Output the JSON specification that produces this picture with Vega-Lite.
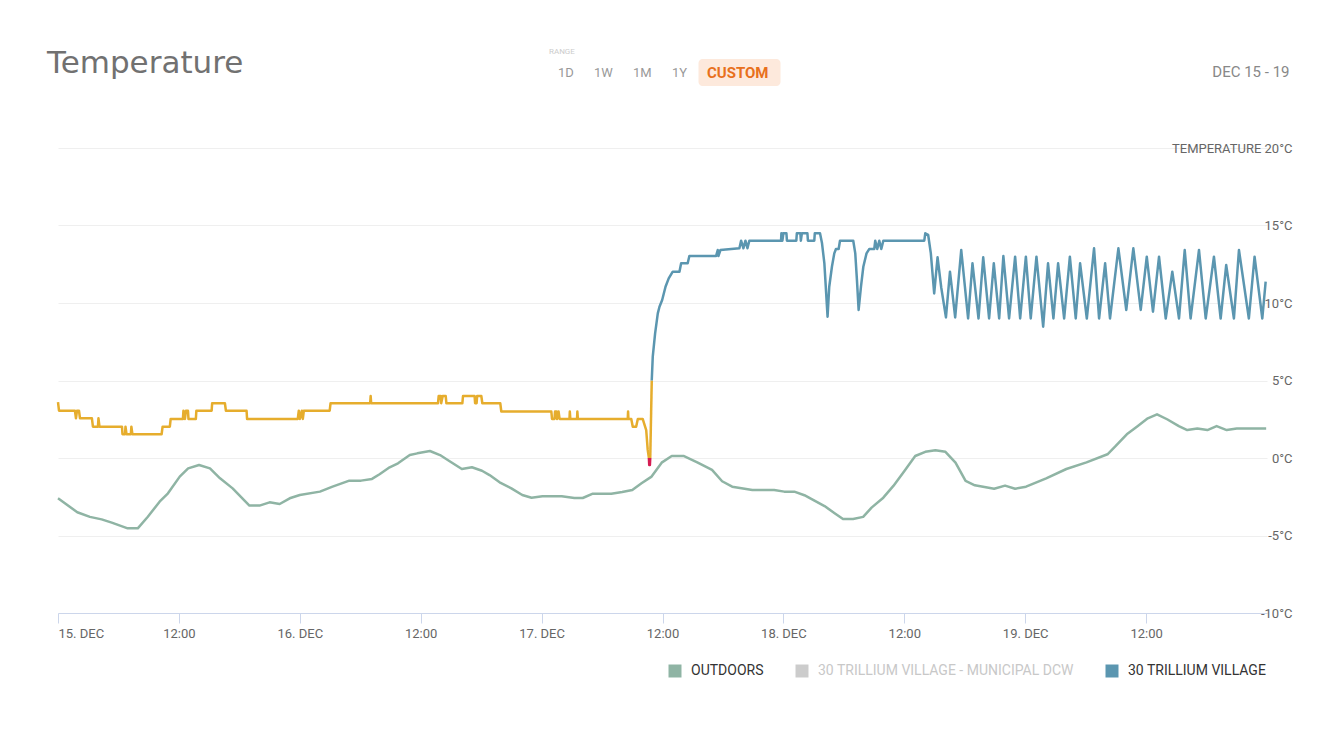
{
  "$schema": "https://vega.github.io/schema/vega-lite/v6.json",
  "width": 1209,
  "height": 465,
  "autosize": {"type": "none"},
  "padding": {"left": 58, "top": 148, "right": 50, "bottom": 139},
  "background": "#ffffff",
  "config": {"view": {"stroke": null}, "font": "Roboto"},
  "title": {"text": "Temperature", "anchor": "start", "frame": "group", "dx": -11, "offset": -56, "baseline": "alphabetic", "font": "DejaVu Sans", "fontSize": 31, "fontWeight": "normal", "color": "#717171"},
  "datasets": {
    "ranges": [{"range": "1D"}, {"range": "1W"}, {"range": "1M"}, {"range": "1Y"}],
    "selected": [{"selected": "CUSTOM"}],
    "temps": [
      {"time": "2017-12-15T00:00", "temp": -2.6, "series": "OUTDOORS", "part": "o"},
      {"time": "2017-12-15T01:55", "temp": -3.5, "series": "OUTDOORS", "part": "o"},
      {"time": "2017-12-15T03:10", "temp": -3.8, "series": "OUTDOORS", "part": "o"},
      {"time": "2017-12-15T04:20", "temp": -3.96, "series": "OUTDOORS", "part": "o"},
      {"time": "2017-12-15T05:20", "temp": -4.17, "series": "OUTDOORS", "part": "o"},
      {"time": "2017-12-15T06:55", "temp": -4.54, "series": "OUTDOORS", "part": "o"},
      {"time": "2017-12-15T07:55", "temp": -4.54, "series": "OUTDOORS", "part": "o"},
      {"time": "2017-12-15T08:55", "temp": -3.79, "series": "OUTDOORS", "part": "o"},
      {"time": "2017-12-15T10:05", "temp": -2.82, "series": "OUTDOORS", "part": "o"},
      {"time": "2017-12-15T10:55", "temp": -2.28, "series": "OUTDOORS", "part": "o"},
      {"time": "2017-12-15T12:05", "temp": -1.2, "series": "OUTDOORS", "part": "o"},
      {"time": "2017-12-15T12:55", "temp": -0.67, "series": "OUTDOORS", "part": "o"},
      {"time": "2017-12-15T14:00", "temp": -0.45, "series": "OUTDOORS", "part": "o"},
      {"time": "2017-12-15T15:05", "temp": -0.67, "series": "OUTDOORS", "part": "o"},
      {"time": "2017-12-15T16:05", "temp": -1.31, "series": "OUTDOORS", "part": "o"},
      {"time": "2017-12-15T17:20", "temp": -1.96, "series": "OUTDOORS", "part": "o"},
      {"time": "2017-12-15T19:00", "temp": -3.07, "series": "OUTDOORS", "part": "o"},
      {"time": "2017-12-15T20:00", "temp": -3.07, "series": "OUTDOORS", "part": "o"},
      {"time": "2017-12-15T21:00", "temp": -2.86, "series": "OUTDOORS", "part": "o"},
      {"time": "2017-12-15T22:00", "temp": -2.97, "series": "OUTDOORS", "part": "o"},
      {"time": "2017-12-15T23:00", "temp": -2.6, "series": "OUTDOORS", "part": "o"},
      {"time": "2017-12-16T00:00", "temp": -2.39, "series": "OUTDOORS", "part": "o"},
      {"time": "2017-12-16T02:00", "temp": -2.17, "series": "OUTDOORS", "part": "o"},
      {"time": "2017-12-16T03:15", "temp": -1.85, "series": "OUTDOORS", "part": "o"},
      {"time": "2017-12-16T04:55", "temp": -1.46, "series": "OUTDOORS", "part": "o"},
      {"time": "2017-12-16T06:05", "temp": -1.46, "series": "OUTDOORS", "part": "o"},
      {"time": "2017-12-16T07:10", "temp": -1.35, "series": "OUTDOORS", "part": "o"},
      {"time": "2017-12-16T07:55", "temp": -1.05, "series": "OUTDOORS", "part": "o"},
      {"time": "2017-12-16T08:55", "temp": -0.6, "series": "OUTDOORS", "part": "o"},
      {"time": "2017-12-16T09:45", "temp": -0.34, "series": "OUTDOORS", "part": "o"},
      {"time": "2017-12-16T10:55", "temp": 0.19, "series": "OUTDOORS", "part": "o"},
      {"time": "2017-12-16T11:40", "temp": 0.3, "series": "OUTDOORS", "part": "o"},
      {"time": "2017-12-16T12:55", "temp": 0.45, "series": "OUTDOORS", "part": "o"},
      {"time": "2017-12-16T13:55", "temp": 0.19, "series": "OUTDOORS", "part": "o"},
      {"time": "2017-12-16T14:50", "temp": -0.19, "series": "OUTDOORS", "part": "o"},
      {"time": "2017-12-16T16:05", "temp": -0.71, "series": "OUTDOORS", "part": "o"},
      {"time": "2017-12-16T17:05", "temp": -0.6, "series": "OUTDOORS", "part": "o"},
      {"time": "2017-12-16T18:05", "temp": -0.82, "series": "OUTDOORS", "part": "o"},
      {"time": "2017-12-16T18:50", "temp": -1.1, "series": "OUTDOORS", "part": "o"},
      {"time": "2017-12-16T19:50", "temp": -1.57, "series": "OUTDOORS", "part": "o"},
      {"time": "2017-12-16T21:00", "temp": -1.96, "series": "OUTDOORS", "part": "o"},
      {"time": "2017-12-16T22:05", "temp": -2.39, "series": "OUTDOORS", "part": "o"},
      {"time": "2017-12-16T23:00", "temp": -2.56, "series": "OUTDOORS", "part": "o"},
      {"time": "2017-12-17T00:05", "temp": -2.47, "series": "OUTDOORS", "part": "o"},
      {"time": "2017-12-17T02:00", "temp": -2.47, "series": "OUTDOORS", "part": "o"},
      {"time": "2017-12-17T03:15", "temp": -2.58, "series": "OUTDOORS", "part": "o"},
      {"time": "2017-12-17T04:05", "temp": -2.58, "series": "OUTDOORS", "part": "o"},
      {"time": "2017-12-17T05:05", "temp": -2.3, "series": "OUTDOORS", "part": "o"},
      {"time": "2017-12-17T06:55", "temp": -2.3, "series": "OUTDOORS", "part": "o"},
      {"time": "2017-12-17T08:00", "temp": -2.19, "series": "OUTDOORS", "part": "o"},
      {"time": "2017-12-17T09:00", "temp": -2.06, "series": "OUTDOORS", "part": "o"},
      {"time": "2017-12-17T09:55", "temp": -1.63, "series": "OUTDOORS", "part": "o"},
      {"time": "2017-12-17T10:55", "temp": -1.2, "series": "OUTDOORS", "part": "o"},
      {"time": "2017-12-17T11:55", "temp": -0.3, "series": "OUTDOORS", "part": "o"},
      {"time": "2017-12-17T12:55", "temp": 0.13, "series": "OUTDOORS", "part": "o"},
      {"time": "2017-12-17T14:05", "temp": 0.13, "series": "OUTDOORS", "part": "o"},
      {"time": "2017-12-17T15:30", "temp": -0.3, "series": "OUTDOORS", "part": "o"},
      {"time": "2017-12-17T16:55", "temp": -0.77, "series": "OUTDOORS", "part": "o"},
      {"time": "2017-12-17T17:55", "temp": -1.5, "series": "OUTDOORS", "part": "o"},
      {"time": "2017-12-17T18:55", "temp": -1.85, "series": "OUTDOORS", "part": "o"},
      {"time": "2017-12-17T20:55", "temp": -2.06, "series": "OUTDOORS", "part": "o"},
      {"time": "2017-12-17T23:05", "temp": -2.06, "series": "OUTDOORS", "part": "o"},
      {"time": "2017-12-18T00:05", "temp": -2.17, "series": "OUTDOORS", "part": "o"},
      {"time": "2017-12-18T01:05", "temp": -2.17, "series": "OUTDOORS", "part": "o"},
      {"time": "2017-12-18T02:05", "temp": -2.4, "series": "OUTDOORS", "part": "o"},
      {"time": "2017-12-18T03:05", "temp": -2.75, "series": "OUTDOORS", "part": "o"},
      {"time": "2017-12-18T04:05", "temp": -3.1, "series": "OUTDOORS", "part": "o"},
      {"time": "2017-12-18T05:05", "temp": -3.56, "series": "OUTDOORS", "part": "o"},
      {"time": "2017-12-18T05:55", "temp": -3.94, "series": "OUTDOORS", "part": "o"},
      {"time": "2017-12-18T06:55", "temp": -3.94, "series": "OUTDOORS", "part": "o"},
      {"time": "2017-12-18T07:55", "temp": -3.8, "series": "OUTDOORS", "part": "o"},
      {"time": "2017-12-18T08:45", "temp": -3.2, "series": "OUTDOORS", "part": "o"},
      {"time": "2017-12-18T09:55", "temp": -2.56, "series": "OUTDOORS", "part": "o"},
      {"time": "2017-12-18T10:55", "temp": -1.8, "series": "OUTDOORS", "part": "o"},
      {"time": "2017-12-18T12:05", "temp": -0.77, "series": "OUTDOORS", "part": "o"},
      {"time": "2017-12-18T13:05", "temp": 0.13, "series": "OUTDOORS", "part": "o"},
      {"time": "2017-12-18T14:05", "temp": 0.4, "series": "OUTDOORS", "part": "o"},
      {"time": "2017-12-18T15:05", "temp": 0.5, "series": "OUTDOORS", "part": "o"},
      {"time": "2017-12-18T16:05", "temp": 0.4, "series": "OUTDOORS", "part": "o"},
      {"time": "2017-12-18T17:05", "temp": -0.3, "series": "OUTDOORS", "part": "o"},
      {"time": "2017-12-18T18:05", "temp": -1.48, "series": "OUTDOORS", "part": "o"},
      {"time": "2017-12-18T19:00", "temp": -1.76, "series": "OUTDOORS", "part": "o"},
      {"time": "2017-12-18T20:55", "temp": -1.98, "series": "OUTDOORS", "part": "o"},
      {"time": "2017-12-18T22:00", "temp": -1.78, "series": "OUTDOORS", "part": "o"},
      {"time": "2017-12-18T23:00", "temp": -1.98, "series": "OUTDOORS", "part": "o"},
      {"time": "2017-12-19T00:05", "temp": -1.85, "series": "OUTDOORS", "part": "o"},
      {"time": "2017-12-19T02:05", "temp": -1.31, "series": "OUTDOORS", "part": "o"},
      {"time": "2017-12-19T04:05", "temp": -0.71, "series": "OUTDOORS", "part": "o"},
      {"time": "2017-12-19T06:05", "temp": -0.28, "series": "OUTDOORS", "part": "o"},
      {"time": "2017-12-19T08:10", "temp": 0.24, "series": "OUTDOORS", "part": "o"},
      {"time": "2017-12-19T08:55", "temp": 0.73, "series": "OUTDOORS", "part": "o"},
      {"time": "2017-12-19T10:05", "temp": 1.53, "series": "OUTDOORS", "part": "o"},
      {"time": "2017-12-19T11:05", "temp": 2.02, "series": "OUTDOORS", "part": "o"},
      {"time": "2017-12-19T12:10", "temp": 2.56, "series": "OUTDOORS", "part": "o"},
      {"time": "2017-12-19T13:05", "temp": 2.82, "series": "OUTDOORS", "part": "o"},
      {"time": "2017-12-19T14:05", "temp": 2.5, "series": "OUTDOORS", "part": "o"},
      {"time": "2017-12-19T15:15", "temp": 2.06, "series": "OUTDOORS", "part": "o"},
      {"time": "2017-12-19T16:05", "temp": 1.8, "series": "OUTDOORS", "part": "o"},
      {"time": "2017-12-19T17:05", "temp": 1.9, "series": "OUTDOORS", "part": "o"},
      {"time": "2017-12-19T18:05", "temp": 1.8, "series": "OUTDOORS", "part": "o"},
      {"time": "2017-12-19T19:00", "temp": 2.06, "series": "OUTDOORS", "part": "o"},
      {"time": "2017-12-19T20:00", "temp": 1.8, "series": "OUTDOORS", "part": "o"},
      {"time": "2017-12-19T21:00", "temp": 1.9, "series": "OUTDOORS", "part": "o"},
      {"time": "2017-12-19T23:55", "temp": 1.9, "series": "OUTDOORS", "part": "o"},

      {"time": "2017-12-15T00:00", "temp": 3.6, "series": "30 TRILLIUM VILLAGE <5°C", "part": "a"},
      {"time": "2017-12-15T00:06", "temp": 3.05, "series": "30 TRILLIUM VILLAGE <5°C", "part": "a"},
      {"time": "2017-12-15T01:41", "temp": 3.05, "series": "30 TRILLIUM VILLAGE <5°C", "part": "a"},
      {"time": "2017-12-15T01:47", "temp": 2.56, "series": "30 TRILLIUM VILLAGE <5°C", "part": "a"},
      {"time": "2017-12-15T01:53", "temp": 3.05, "series": "30 TRILLIUM VILLAGE <5°C", "part": "a"},
      {"time": "2017-12-15T02:05", "temp": 3.05, "series": "30 TRILLIUM VILLAGE <5°C", "part": "a"},
      {"time": "2017-12-15T02:11", "temp": 2.56, "series": "30 TRILLIUM VILLAGE <5°C", "part": "a"},
      {"time": "2017-12-15T03:22", "temp": 2.56, "series": "30 TRILLIUM VILLAGE <5°C", "part": "a"},
      {"time": "2017-12-15T03:28", "temp": 2.02, "series": "30 TRILLIUM VILLAGE <5°C", "part": "a"},
      {"time": "2017-12-15T03:58", "temp": 2.02, "series": "30 TRILLIUM VILLAGE <5°C", "part": "a"},
      {"time": "2017-12-15T04:01", "temp": 2.56, "series": "30 TRILLIUM VILLAGE <5°C", "part": "a"},
      {"time": "2017-12-15T04:07", "temp": 2.02, "series": "30 TRILLIUM VILLAGE <5°C", "part": "a"},
      {"time": "2017-12-15T06:21", "temp": 2.02, "series": "30 TRILLIUM VILLAGE <5°C", "part": "a"},
      {"time": "2017-12-15T06:24", "temp": 1.53, "series": "30 TRILLIUM VILLAGE <5°C", "part": "a"},
      {"time": "2017-12-15T06:39", "temp": 1.53, "series": "30 TRILLIUM VILLAGE <5°C", "part": "a"},
      {"time": "2017-12-15T06:42", "temp": 2.02, "series": "30 TRILLIUM VILLAGE <5°C", "part": "a"},
      {"time": "2017-12-15T06:48", "temp": 1.53, "series": "30 TRILLIUM VILLAGE <5°C", "part": "a"},
      {"time": "2017-12-15T07:14", "temp": 1.53, "series": "30 TRILLIUM VILLAGE <5°C", "part": "a"},
      {"time": "2017-12-15T07:17", "temp": 2.02, "series": "30 TRILLIUM VILLAGE <5°C", "part": "a"},
      {"time": "2017-12-15T07:23", "temp": 1.53, "series": "30 TRILLIUM VILLAGE <5°C", "part": "a"},
      {"time": "2017-12-15T10:17", "temp": 1.53, "series": "30 TRILLIUM VILLAGE <5°C", "part": "a"},
      {"time": "2017-12-15T10:23", "temp": 2.02, "series": "30 TRILLIUM VILLAGE <5°C", "part": "a"},
      {"time": "2017-12-15T11:06", "temp": 2.02, "series": "30 TRILLIUM VILLAGE <5°C", "part": "a"},
      {"time": "2017-12-15T11:11", "temp": 2.52, "series": "30 TRILLIUM VILLAGE <5°C", "part": "a"},
      {"time": "2017-12-15T12:24", "temp": 2.52, "series": "30 TRILLIUM VILLAGE <5°C", "part": "a"},
      {"time": "2017-12-15T12:27", "temp": 3.05, "series": "30 TRILLIUM VILLAGE <5°C", "part": "a"},
      {"time": "2017-12-15T12:36", "temp": 2.52, "series": "30 TRILLIUM VILLAGE <5°C", "part": "a"},
      {"time": "2017-12-15T12:42", "temp": 3.05, "series": "30 TRILLIUM VILLAGE <5°C", "part": "a"},
      {"time": "2017-12-15T12:54", "temp": 3.05, "series": "30 TRILLIUM VILLAGE <5°C", "part": "a"},
      {"time": "2017-12-15T12:57", "temp": 2.52, "series": "30 TRILLIUM VILLAGE <5°C", "part": "a"},
      {"time": "2017-12-15T13:41", "temp": 2.52, "series": "30 TRILLIUM VILLAGE <5°C", "part": "a"},
      {"time": "2017-12-15T13:44", "temp": 3.05, "series": "30 TRILLIUM VILLAGE <5°C", "part": "a"},
      {"time": "2017-12-15T15:15", "temp": 3.05, "series": "30 TRILLIUM VILLAGE <5°C", "part": "a"},
      {"time": "2017-12-15T15:18", "temp": 3.53, "series": "30 TRILLIUM VILLAGE <5°C", "part": "a"},
      {"time": "2017-12-15T16:34", "temp": 3.53, "series": "30 TRILLIUM VILLAGE <5°C", "part": "a"},
      {"time": "2017-12-15T16:40", "temp": 3.05, "series": "30 TRILLIUM VILLAGE <5°C", "part": "a"},
      {"time": "2017-12-15T18:43", "temp": 3.05, "series": "30 TRILLIUM VILLAGE <5°C", "part": "a"},
      {"time": "2017-12-15T18:46", "temp": 2.52, "series": "30 TRILLIUM VILLAGE <5°C", "part": "a"},
      {"time": "2017-12-15T23:48", "temp": 2.52, "series": "30 TRILLIUM VILLAGE <5°C", "part": "a"},
      {"time": "2017-12-15T23:54", "temp": 3.05, "series": "30 TRILLIUM VILLAGE <5°C", "part": "a"},
      {"time": "2017-12-16T00:00", "temp": 2.52, "series": "30 TRILLIUM VILLAGE <5°C", "part": "a"},
      {"time": "2017-12-16T00:12", "temp": 3.05, "series": "30 TRILLIUM VILLAGE <5°C", "part": "a"},
      {"time": "2017-12-16T00:18", "temp": 2.52, "series": "30 TRILLIUM VILLAGE <5°C", "part": "a"},
      {"time": "2017-12-16T00:24", "temp": 3.05, "series": "30 TRILLIUM VILLAGE <5°C", "part": "a"},
      {"time": "2017-12-16T02:58", "temp": 3.05, "series": "30 TRILLIUM VILLAGE <5°C", "part": "a"},
      {"time": "2017-12-16T03:03", "temp": 3.53, "series": "30 TRILLIUM VILLAGE <5°C", "part": "a"},
      {"time": "2017-12-16T06:59", "temp": 3.53, "series": "30 TRILLIUM VILLAGE <5°C", "part": "a"},
      {"time": "2017-12-16T07:02", "temp": 4.0, "series": "30 TRILLIUM VILLAGE <5°C", "part": "a"},
      {"time": "2017-12-16T07:05", "temp": 3.53, "series": "30 TRILLIUM VILLAGE <5°C", "part": "a"},
      {"time": "2017-12-16T13:43", "temp": 3.53, "series": "30 TRILLIUM VILLAGE <5°C", "part": "a"},
      {"time": "2017-12-16T13:47", "temp": 4.0, "series": "30 TRILLIUM VILLAGE <5°C", "part": "a"},
      {"time": "2017-12-16T13:59", "temp": 4.0, "series": "30 TRILLIUM VILLAGE <5°C", "part": "a"},
      {"time": "2017-12-16T14:02", "temp": 3.53, "series": "30 TRILLIUM VILLAGE <5°C", "part": "a"},
      {"time": "2017-12-16T14:11", "temp": 4.0, "series": "30 TRILLIUM VILLAGE <5°C", "part": "a"},
      {"time": "2017-12-16T14:29", "temp": 4.0, "series": "30 TRILLIUM VILLAGE <5°C", "part": "a"},
      {"time": "2017-12-16T14:33", "temp": 3.53, "series": "30 TRILLIUM VILLAGE <5°C", "part": "a"},
      {"time": "2017-12-16T16:08", "temp": 3.53, "series": "30 TRILLIUM VILLAGE <5°C", "part": "a"},
      {"time": "2017-12-16T16:12", "temp": 4.0, "series": "30 TRILLIUM VILLAGE <5°C", "part": "a"},
      {"time": "2017-12-16T17:21", "temp": 4.0, "series": "30 TRILLIUM VILLAGE <5°C", "part": "a"},
      {"time": "2017-12-16T17:24", "temp": 3.53, "series": "30 TRILLIUM VILLAGE <5°C", "part": "a"},
      {"time": "2017-12-16T17:33", "temp": 3.53, "series": "30 TRILLIUM VILLAGE <5°C", "part": "a"},
      {"time": "2017-12-16T17:36", "temp": 4.0, "series": "30 TRILLIUM VILLAGE <5°C", "part": "a"},
      {"time": "2017-12-16T18:01", "temp": 4.0, "series": "30 TRILLIUM VILLAGE <5°C", "part": "a"},
      {"time": "2017-12-16T18:07", "temp": 3.53, "series": "30 TRILLIUM VILLAGE <5°C", "part": "a"},
      {"time": "2017-12-16T19:54", "temp": 3.53, "series": "30 TRILLIUM VILLAGE <5°C", "part": "a"},
      {"time": "2017-12-16T20:00", "temp": 3.0, "series": "30 TRILLIUM VILLAGE <5°C", "part": "a"},
      {"time": "2017-12-17T00:58", "temp": 3.0, "series": "30 TRILLIUM VILLAGE <5°C", "part": "a"},
      {"time": "2017-12-17T01:02", "temp": 2.52, "series": "30 TRILLIUM VILLAGE <5°C", "part": "a"},
      {"time": "2017-12-17T01:17", "temp": 2.52, "series": "30 TRILLIUM VILLAGE <5°C", "part": "a"},
      {"time": "2017-12-17T01:20", "temp": 3.0, "series": "30 TRILLIUM VILLAGE <5°C", "part": "a"},
      {"time": "2017-12-17T01:29", "temp": 3.0, "series": "30 TRILLIUM VILLAGE <5°C", "part": "a"},
      {"time": "2017-12-17T01:32", "temp": 2.52, "series": "30 TRILLIUM VILLAGE <5°C", "part": "a"},
      {"time": "2017-12-17T01:41", "temp": 3.0, "series": "30 TRILLIUM VILLAGE <5°C", "part": "a"},
      {"time": "2017-12-17T01:47", "temp": 2.52, "series": "30 TRILLIUM VILLAGE <5°C", "part": "a"},
      {"time": "2017-12-17T02:46", "temp": 2.52, "series": "30 TRILLIUM VILLAGE <5°C", "part": "a"},
      {"time": "2017-12-17T02:48", "temp": 3.0, "series": "30 TRILLIUM VILLAGE <5°C", "part": "a"},
      {"time": "2017-12-17T02:51", "temp": 2.52, "series": "30 TRILLIUM VILLAGE <5°C", "part": "a"},
      {"time": "2017-12-17T03:31", "temp": 2.52, "series": "30 TRILLIUM VILLAGE <5°C", "part": "a"},
      {"time": "2017-12-17T03:33", "temp": 3.0, "series": "30 TRILLIUM VILLAGE <5°C", "part": "a"},
      {"time": "2017-12-17T03:36", "temp": 2.52, "series": "30 TRILLIUM VILLAGE <5°C", "part": "a"},
      {"time": "2017-12-17T08:33", "temp": 2.52, "series": "30 TRILLIUM VILLAGE <5°C", "part": "a"},
      {"time": "2017-12-17T08:35", "temp": 3.0, "series": "30 TRILLIUM VILLAGE <5°C", "part": "a"},
      {"time": "2017-12-17T08:37", "temp": 2.52, "series": "30 TRILLIUM VILLAGE <5°C", "part": "a"},
      {"time": "2017-12-17T08:54", "temp": 2.52, "series": "30 TRILLIUM VILLAGE <5°C", "part": "a"},
      {"time": "2017-12-17T09:03", "temp": 2.02, "series": "30 TRILLIUM VILLAGE <5°C", "part": "a"},
      {"time": "2017-12-17T09:23", "temp": 2.02, "series": "30 TRILLIUM VILLAGE <5°C", "part": "a"},
      {"time": "2017-12-17T09:33", "temp": 2.52, "series": "30 TRILLIUM VILLAGE <5°C", "part": "a"},
      {"time": "2017-12-17T10:02", "temp": 2.52, "series": "30 TRILLIUM VILLAGE <5°C", "part": "a"},
      {"time": "2017-12-17T10:23", "temp": 1.8, "series": "30 TRILLIUM VILLAGE <5°C", "part": "a"},
      {"time": "2017-12-17T10:32", "temp": 0.52, "series": "30 TRILLIUM VILLAGE <5°C", "part": "a"},
      {"time": "2017-12-17T10:39", "temp": 0.0, "series": "30 TRILLIUM VILLAGE <5°C", "part": "a"},

      {"time": "2017-12-17T10:39", "temp": 0.0, "series": "30 TRILLIUM VILLAGE <0°C", "part": "b"},
      {"time": "2017-12-17T10:41", "temp": -0.45, "series": "30 TRILLIUM VILLAGE <0°C", "part": "b"},
      {"time": "2017-12-17T10:45", "temp": -0.45, "series": "30 TRILLIUM VILLAGE <0°C", "part": "b"},
      {"time": "2017-12-17T10:47", "temp": 0.0, "series": "30 TRILLIUM VILLAGE <0°C", "part": "b"},

      {"time": "2017-12-17T10:47", "temp": 0.0, "series": "30 TRILLIUM VILLAGE <5°C", "part": "c"},
      {"time": "2017-12-17T10:56", "temp": 5.0, "series": "30 TRILLIUM VILLAGE <5°C", "part": "c"},

      {"time": "2017-12-17T10:56", "temp": 5.0, "series": "30 TRILLIUM VILLAGE", "part": "d"},
      {"time": "2017-12-17T11:02", "temp": 6.54, "series": "30 TRILLIUM VILLAGE", "part": "d"},
      {"time": "2017-12-17T11:16", "temp": 8.04, "series": "30 TRILLIUM VILLAGE", "part": "d"},
      {"time": "2017-12-17T11:32", "temp": 9.33, "series": "30 TRILLIUM VILLAGE", "part": "d"},
      {"time": "2017-12-17T11:42", "temp": 9.76, "series": "30 TRILLIUM VILLAGE", "part": "d"},
      {"time": "2017-12-17T11:58", "temp": 10.19, "series": "30 TRILLIUM VILLAGE", "part": "d"},
      {"time": "2017-12-17T12:18", "temp": 11.05, "series": "30 TRILLIUM VILLAGE", "part": "d"},
      {"time": "2017-12-17T12:37", "temp": 11.59, "series": "30 TRILLIUM VILLAGE", "part": "d"},
      {"time": "2017-12-17T13:01", "temp": 12.02, "series": "30 TRILLIUM VILLAGE", "part": "d"},
      {"time": "2017-12-17T13:41", "temp": 12.02, "series": "30 TRILLIUM VILLAGE", "part": "d"},
      {"time": "2017-12-17T13:51", "temp": 12.56, "series": "30 TRILLIUM VILLAGE", "part": "d"},
      {"time": "2017-12-17T14:30", "temp": 12.56, "series": "30 TRILLIUM VILLAGE", "part": "d"},
      {"time": "2017-12-17T14:40", "temp": 13.03, "series": "30 TRILLIUM VILLAGE", "part": "d"},
      {"time": "2017-12-17T17:19", "temp": 13.03, "series": "30 TRILLIUM VILLAGE", "part": "d"},
      {"time": "2017-12-17T17:29", "temp": 13.42, "series": "30 TRILLIUM VILLAGE", "part": "d"},
      {"time": "2017-12-17T17:33", "temp": 13.03, "series": "30 TRILLIUM VILLAGE", "part": "d"},
      {"time": "2017-12-17T17:45", "temp": 13.42, "series": "30 TRILLIUM VILLAGE", "part": "d"},
      {"time": "2017-12-17T19:38", "temp": 13.53, "series": "30 TRILLIUM VILLAGE", "part": "d"},
      {"time": "2017-12-17T19:48", "temp": 14.02, "series": "30 TRILLIUM VILLAGE", "part": "d"},
      {"time": "2017-12-17T20:02", "temp": 13.53, "series": "30 TRILLIUM VILLAGE", "part": "d"},
      {"time": "2017-12-17T20:14", "temp": 14.02, "series": "30 TRILLIUM VILLAGE", "part": "d"},
      {"time": "2017-12-17T20:26", "temp": 13.53, "series": "30 TRILLIUM VILLAGE", "part": "d"},
      {"time": "2017-12-17T20:37", "temp": 14.02, "series": "30 TRILLIUM VILLAGE", "part": "d"},
      {"time": "2017-12-17T23:46", "temp": 14.02, "series": "30 TRILLIUM VILLAGE", "part": "d"},
      {"time": "2017-12-17T23:48", "temp": 14.5, "series": "30 TRILLIUM VILLAGE", "part": "d"},
      {"time": "2017-12-17T23:54", "temp": 14.02, "series": "30 TRILLIUM VILLAGE", "part": "d"},
      {"time": "2017-12-18T00:00", "temp": 14.5, "series": "30 TRILLIUM VILLAGE", "part": "d"},
      {"time": "2017-12-18T00:18", "temp": 14.5, "series": "30 TRILLIUM VILLAGE", "part": "d"},
      {"time": "2017-12-18T00:21", "temp": 14.02, "series": "30 TRILLIUM VILLAGE", "part": "d"},
      {"time": "2017-12-18T01:17", "temp": 14.02, "series": "30 TRILLIUM VILLAGE", "part": "d"},
      {"time": "2017-12-18T01:20", "temp": 14.5, "series": "30 TRILLIUM VILLAGE", "part": "d"},
      {"time": "2017-12-18T01:41", "temp": 14.5, "series": "30 TRILLIUM VILLAGE", "part": "d"},
      {"time": "2017-12-18T01:44", "temp": 14.02, "series": "30 TRILLIUM VILLAGE", "part": "d"},
      {"time": "2017-12-18T01:50", "temp": 14.5, "series": "30 TRILLIUM VILLAGE", "part": "d"},
      {"time": "2017-12-18T02:23", "temp": 14.5, "series": "30 TRILLIUM VILLAGE", "part": "d"},
      {"time": "2017-12-18T02:26", "temp": 14.02, "series": "30 TRILLIUM VILLAGE", "part": "d"},
      {"time": "2017-12-18T03:04", "temp": 14.02, "series": "30 TRILLIUM VILLAGE", "part": "d"},
      {"time": "2017-12-18T03:07", "temp": 14.5, "series": "30 TRILLIUM VILLAGE", "part": "d"},
      {"time": "2017-12-18T03:38", "temp": 14.5, "series": "30 TRILLIUM VILLAGE", "part": "d"},
      {"time": "2017-12-18T03:50", "temp": 13.85, "series": "30 TRILLIUM VILLAGE", "part": "d"},
      {"time": "2017-12-18T04:04", "temp": 12.56, "series": "30 TRILLIUM VILLAGE", "part": "d"},
      {"time": "2017-12-18T04:23", "temp": 9.12, "series": "30 TRILLIUM VILLAGE", "part": "d"},
      {"time": "2017-12-18T04:33", "temp": 11.05, "series": "30 TRILLIUM VILLAGE", "part": "d"},
      {"time": "2017-12-18T04:49", "temp": 12.34, "series": "30 TRILLIUM VILLAGE", "part": "d"},
      {"time": "2017-12-18T05:03", "temp": 13.2, "series": "30 TRILLIUM VILLAGE", "part": "d"},
      {"time": "2017-12-18T05:13", "temp": 13.48, "series": "30 TRILLIUM VILLAGE", "part": "d"},
      {"time": "2017-12-18T05:29", "temp": 13.48, "series": "30 TRILLIUM VILLAGE", "part": "d"},
      {"time": "2017-12-18T05:37", "temp": 14.02, "series": "30 TRILLIUM VILLAGE", "part": "d"},
      {"time": "2017-12-18T06:56", "temp": 14.02, "series": "30 TRILLIUM VILLAGE", "part": "d"},
      {"time": "2017-12-18T07:08", "temp": 13.2, "series": "30 TRILLIUM VILLAGE", "part": "d"},
      {"time": "2017-12-18T07:18", "temp": 11.48, "series": "30 TRILLIUM VILLAGE", "part": "d"},
      {"time": "2017-12-18T07:28", "temp": 9.55, "series": "30 TRILLIUM VILLAGE", "part": "d"},
      {"time": "2017-12-18T07:42", "temp": 11.05, "series": "30 TRILLIUM VILLAGE", "part": "d"},
      {"time": "2017-12-18T07:56", "temp": 12.34, "series": "30 TRILLIUM VILLAGE", "part": "d"},
      {"time": "2017-12-18T08:15", "temp": 13.2, "series": "30 TRILLIUM VILLAGE", "part": "d"},
      {"time": "2017-12-18T08:31", "temp": 13.48, "series": "30 TRILLIUM VILLAGE", "part": "d"},
      {"time": "2017-12-18T09:01", "temp": 13.48, "series": "30 TRILLIUM VILLAGE", "part": "d"},
      {"time": "2017-12-18T09:07", "temp": 14.02, "series": "30 TRILLIUM VILLAGE", "part": "d"},
      {"time": "2017-12-18T09:19", "temp": 13.48, "series": "30 TRILLIUM VILLAGE", "part": "d"},
      {"time": "2017-12-18T09:31", "temp": 14.02, "series": "30 TRILLIUM VILLAGE", "part": "d"},
      {"time": "2017-12-18T09:43", "temp": 13.48, "series": "30 TRILLIUM VILLAGE", "part": "d"},
      {"time": "2017-12-18T09:55", "temp": 14.02, "series": "30 TRILLIUM VILLAGE", "part": "d"},
      {"time": "2017-12-18T13:59", "temp": 14.02, "series": "30 TRILLIUM VILLAGE", "part": "d"},
      {"time": "2017-12-18T14:05", "temp": 14.5, "series": "30 TRILLIUM VILLAGE", "part": "d"},
      {"time": "2017-12-18T14:22", "temp": 14.4, "series": "30 TRILLIUM VILLAGE", "part": "d"},
      {"time": "2017-12-18T14:38", "temp": 13.2, "series": "30 TRILLIUM VILLAGE", "part": "d"},
      {"time": "2017-12-18T14:58", "temp": 10.62, "series": "30 TRILLIUM VILLAGE", "part": "d"},
      {"time": "2017-12-18T15:18", "temp": 12.95, "series": "30 TRILLIUM VILLAGE", "part": "d"},
      {"time": "2017-12-18T15:40", "temp": 11.0, "series": "30 TRILLIUM VILLAGE", "part": "d"},
      {"time": "2017-12-18T16:08", "temp": 9.07, "series": "30 TRILLIUM VILLAGE", "part": "d"},
      {"time": "2017-12-18T16:32", "temp": 12.02, "series": "30 TRILLIUM VILLAGE", "part": "d"},
      {"time": "2017-12-18T17:03", "temp": 9.07, "series": "30 TRILLIUM VILLAGE", "part": "d"},
      {"time": "2017-12-18T17:39", "temp": 13.42, "series": "30 TRILLIUM VILLAGE", "part": "d"},
      {"time": "2017-12-18T18:20", "temp": 9.0, "series": "30 TRILLIUM VILLAGE", "part": "d"},
      {"time": "2017-12-18T18:46", "temp": 12.56, "series": "30 TRILLIUM VILLAGE", "part": "d"},
      {"time": "2017-12-18T19:22", "temp": 9.0, "series": "30 TRILLIUM VILLAGE", "part": "d"},
      {"time": "2017-12-18T19:50", "temp": 12.95, "series": "30 TRILLIUM VILLAGE", "part": "d"},
      {"time": "2017-12-18T20:25", "temp": 9.0, "series": "30 TRILLIUM VILLAGE", "part": "d"},
      {"time": "2017-12-18T20:53", "temp": 12.56, "series": "30 TRILLIUM VILLAGE", "part": "d"},
      {"time": "2017-12-18T21:25", "temp": 9.0, "series": "30 TRILLIUM VILLAGE", "part": "d"},
      {"time": "2017-12-18T21:50", "temp": 13.03, "series": "30 TRILLIUM VILLAGE", "part": "d"},
      {"time": "2017-12-18T22:24", "temp": 9.0, "series": "30 TRILLIUM VILLAGE", "part": "d"},
      {"time": "2017-12-18T23:00", "temp": 12.99, "series": "30 TRILLIUM VILLAGE", "part": "d"},
      {"time": "2017-12-18T23:30", "temp": 9.0, "series": "30 TRILLIUM VILLAGE", "part": "d"},
      {"time": "2017-12-19T00:04", "temp": 12.99, "series": "30 TRILLIUM VILLAGE", "part": "d"},
      {"time": "2017-12-19T00:33", "temp": 9.0, "series": "30 TRILLIUM VILLAGE", "part": "d"},
      {"time": "2017-12-19T01:07", "temp": 12.99, "series": "30 TRILLIUM VILLAGE", "part": "d"},
      {"time": "2017-12-19T01:47", "temp": 8.47, "series": "30 TRILLIUM VILLAGE", "part": "d"},
      {"time": "2017-12-19T02:16", "temp": 12.56, "series": "30 TRILLIUM VILLAGE", "part": "d"},
      {"time": "2017-12-19T02:48", "temp": 9.0, "series": "30 TRILLIUM VILLAGE", "part": "d"},
      {"time": "2017-12-19T03:16", "temp": 12.56, "series": "30 TRILLIUM VILLAGE", "part": "d"},
      {"time": "2017-12-19T03:52", "temp": 9.0, "series": "30 TRILLIUM VILLAGE", "part": "d"},
      {"time": "2017-12-19T04:26", "temp": 12.99, "series": "30 TRILLIUM VILLAGE", "part": "d"},
      {"time": "2017-12-19T05:01", "temp": 9.0, "series": "30 TRILLIUM VILLAGE", "part": "d"},
      {"time": "2017-12-19T05:27", "temp": 12.56, "series": "30 TRILLIUM VILLAGE", "part": "d"},
      {"time": "2017-12-19T06:07", "temp": 9.0, "series": "30 TRILLIUM VILLAGE", "part": "d"},
      {"time": "2017-12-19T06:50", "temp": 13.53, "series": "30 TRILLIUM VILLAGE", "part": "d"},
      {"time": "2017-12-19T07:20", "temp": 9.0, "series": "30 TRILLIUM VILLAGE", "part": "d"},
      {"time": "2017-12-19T07:56", "temp": 12.56, "series": "30 TRILLIUM VILLAGE", "part": "d"},
      {"time": "2017-12-19T08:25", "temp": 9.0, "series": "30 TRILLIUM VILLAGE", "part": "d"},
      {"time": "2017-12-19T09:15", "temp": 13.53, "series": "30 TRILLIUM VILLAGE", "part": "d"},
      {"time": "2017-12-19T10:02", "temp": 9.55, "series": "30 TRILLIUM VILLAGE", "part": "d"},
      {"time": "2017-12-19T10:44", "temp": 13.53, "series": "30 TRILLIUM VILLAGE", "part": "d"},
      {"time": "2017-12-19T11:28", "temp": 9.55, "series": "30 TRILLIUM VILLAGE", "part": "d"},
      {"time": "2017-12-19T12:04", "temp": 12.99, "series": "30 TRILLIUM VILLAGE", "part": "d"},
      {"time": "2017-12-19T12:41", "temp": 9.44, "series": "30 TRILLIUM VILLAGE", "part": "d"},
      {"time": "2017-12-19T13:17", "temp": 12.99, "series": "30 TRILLIUM VILLAGE", "part": "d"},
      {"time": "2017-12-19T13:57", "temp": 9.0, "series": "30 TRILLIUM VILLAGE", "part": "d"},
      {"time": "2017-12-19T14:36", "temp": 12.02, "series": "30 TRILLIUM VILLAGE", "part": "d"},
      {"time": "2017-12-19T15:16", "temp": 9.0, "series": "30 TRILLIUM VILLAGE", "part": "d"},
      {"time": "2017-12-19T15:50", "temp": 13.42, "series": "30 TRILLIUM VILLAGE", "part": "d"},
      {"time": "2017-12-19T16:25", "temp": 9.0, "series": "30 TRILLIUM VILLAGE", "part": "d"},
      {"time": "2017-12-19T17:15", "temp": 13.42, "series": "30 TRILLIUM VILLAGE", "part": "d"},
      {"time": "2017-12-19T17:55", "temp": 9.0, "series": "30 TRILLIUM VILLAGE", "part": "d"},
      {"time": "2017-12-19T18:44", "temp": 12.99, "series": "30 TRILLIUM VILLAGE", "part": "d"},
      {"time": "2017-12-19T19:24", "temp": 9.0, "series": "30 TRILLIUM VILLAGE", "part": "d"},
      {"time": "2017-12-19T19:57", "temp": 12.45, "series": "30 TRILLIUM VILLAGE", "part": "d"},
      {"time": "2017-12-19T20:43", "temp": 9.0, "series": "30 TRILLIUM VILLAGE", "part": "d"},
      {"time": "2017-12-19T21:13", "temp": 13.42, "series": "30 TRILLIUM VILLAGE", "part": "d"},
      {"time": "2017-12-19T22:12", "temp": 9.0, "series": "30 TRILLIUM VILLAGE", "part": "d"},
      {"time": "2017-12-19T22:46", "temp": 12.99, "series": "30 TRILLIUM VILLAGE", "part": "d"},
      {"time": "2017-12-19T23:32", "temp": 9.0, "series": "30 TRILLIUM VILLAGE", "part": "d"},
      {"time": "2017-12-19T23:52", "temp": 11.38, "series": "30 TRILLIUM VILLAGE", "part": "d"}
    ]
  },
  "layer": [
    {
      "data": {"name": "temps"},
      "mark": {"type": "line", "strokeWidth": 2.5, "strokeJoin": "round"},
      "encoding": {
        "x": {
          "field": "time", "type": "temporal",
          "scale": {"domain": [{"year": 2017, "month": 12, "date": 15}, {"year": 2017, "month": 12, "date": 20}]},
          "axis": {
            "title": null, "grid": false,
            "values": [
              {"year": 2017, "month": 12, "date": 15}, {"year": 2017, "month": 12, "date": 15, "hours": 12},
              {"year": 2017, "month": 12, "date": 16}, {"year": 2017, "month": 12, "date": 16, "hours": 12},
              {"year": 2017, "month": 12, "date": 17}, {"year": 2017, "month": 12, "date": 17, "hours": 12},
              {"year": 2017, "month": 12, "date": 18}, {"year": 2017, "month": 12, "date": 18, "hours": 12},
              {"year": 2017, "month": 12, "date": 19}, {"year": 2017, "month": 12, "date": 19, "hours": 12}
            ],
            "labelExpr": "timeFormat(datum.value, '%H') === '00' ? timeFormat(datum.value, '%-d') + '. DEC' : '12:00'",
            "domainColor": "#ccd6eb", "tickColor": "#ccd6eb", "tickSize": 10,
            "labelFont": "Roboto", "labelFontSize": 13, "labelColor": "#666666",
            "labelPadding": 4, "labelFlush": true, "labelOverlap": false
          }
        },
        "y": {
          "field": "temp", "type": "quantitative",
          "scale": {"domain": [-10, 20], "nice": false, "zero": false},
          "axis": {
            "orient": "right", "values": [-10, -5, 0, 5, 10, 15, 20],
            "labelExpr": "datum.value === 20 ? 'TEMPERATURE 20°C' : datum.value + '°C'",
            "ticks": false, "domain": false, "grid": true, "gridColor": "#efefef",
            "labelAlign": "right", "labelBaseline": "middle", "labelPadding": 25, "labelBound": false,
            "labelFont": "Roboto", "labelFontSize": 13, "labelColor": "#666666",
            "title": "DEC 15 - 19", "titleAngle": 0, "titleX": 22, "titleY": -77,
            "titleAlign": "right", "titleBaseline": "middle",
            "titleFont": "Roboto", "titleFontSize": 15, "titleFontWeight": "normal", "titleColor": "#888888"
          }
        },
        "color": {
          "field": "series", "type": "nominal",
          "scale": {
            "domain": ["OUTDOORS", "30 TRILLIUM VILLAGE - MUNICIPAL DCW", "30 TRILLIUM VILLAGE", "30 TRILLIUM VILLAGE <5°C", "30 TRILLIUM VILLAGE <0°C"],
            "range": ["#8fb4a4", "#cccccc", "#5b96b0", "#e6ad2d", "#d51c52"]
          },
          "legend": {
            "orient": "none", "legendX": 610, "legendY": 516, "direction": "horizontal", "title": null,
            "values": ["OUTDOORS", "30 TRILLIUM VILLAGE - MUNICIPAL DCW", "30 TRILLIUM VILLAGE"],
            "symbolType": "square", "symbolSize": 169, "symbolStrokeWidth": 0,
            "labelFont": "Roboto", "labelFontSize": 14, "labelColor": "#333333", "labelOffset": 9, "labelLimit": 400,
            "columnPadding": 31, "padding": 0,
            "encode": {
              "symbols": {"update": {"fill": {"scale": "color", "field": "value"}, "stroke": {"value": "transparent"}, "opacity": {"value": 1}}},
              "labels": {"update": {"fill": {"signal": "datum.value === '30 TRILLIUM VILLAGE - MUNICIPAL DCW' ? '#c8c8c8' : '#333333'"}}}
            }
          }
        },
        "detail": {"field": "part", "type": "nominal"}
      }
    },
    {
      "data": {"name": "ranges"},
      "mark": {"type": "point", "opacity": 0, "size": 0},
      "encoding": {
        "shape": {
          "field": "range", "type": "nominal", "sort": null,
          "legend": {
            "orient": "none", "legendX": 491, "legendY": -100, "direction": "horizontal",
            "title": "RANGE", "titleFont": "Roboto", "titleFontSize": 8, "titleColor": "#cccccc", "titleFontWeight": "normal", "titlePadding": 10,
            "symbolType": "circle", "symbolSize": 4, "symbolOpacity": 0, "symbolStrokeWidth": 0, "symbolFillColor": "transparent", "symbolStrokeColor": "transparent",
            "labelOffset": -4, "columnPadding": 11, "padding": 0,
            "labelFont": "Roboto", "labelFontSize": 13, "labelColor": "#999999"
          }
        }
      }
    },
    {
      "data": {"name": "selected"},
      "mark": {"type": "point", "filled": true, "size": 0, "strokeWidth": 0},
      "encoding": {
        "fill": {
          "field": "selected", "type": "nominal",
          "scale": {"range": ["#fde9dc"]},
          "legend": {
            "orient": "none", "legendX": 639, "legendY": -83, "direction": "horizontal", "title": null,
            "symbolType": "M-2,-13.5H72A4,4 0 0 1 76,-9.5V9.5A4,4 0 0 1 72,13.5H-2A4,4 0 0 1 -6,9.5V-9.5A4,4 0 0 1 -2,-13.5Z",
            "symbolSize": 4, "symbolStrokeWidth": 0, "symbolOpacity": 1,
            "labelOffset": -5, "padding": 0,
            "labelFont": "Roboto", "labelFontSize": 15, "labelFontWeight": "bold", "labelColor": "#e8701c"
          }
        }
      }
    }
  ]
}
